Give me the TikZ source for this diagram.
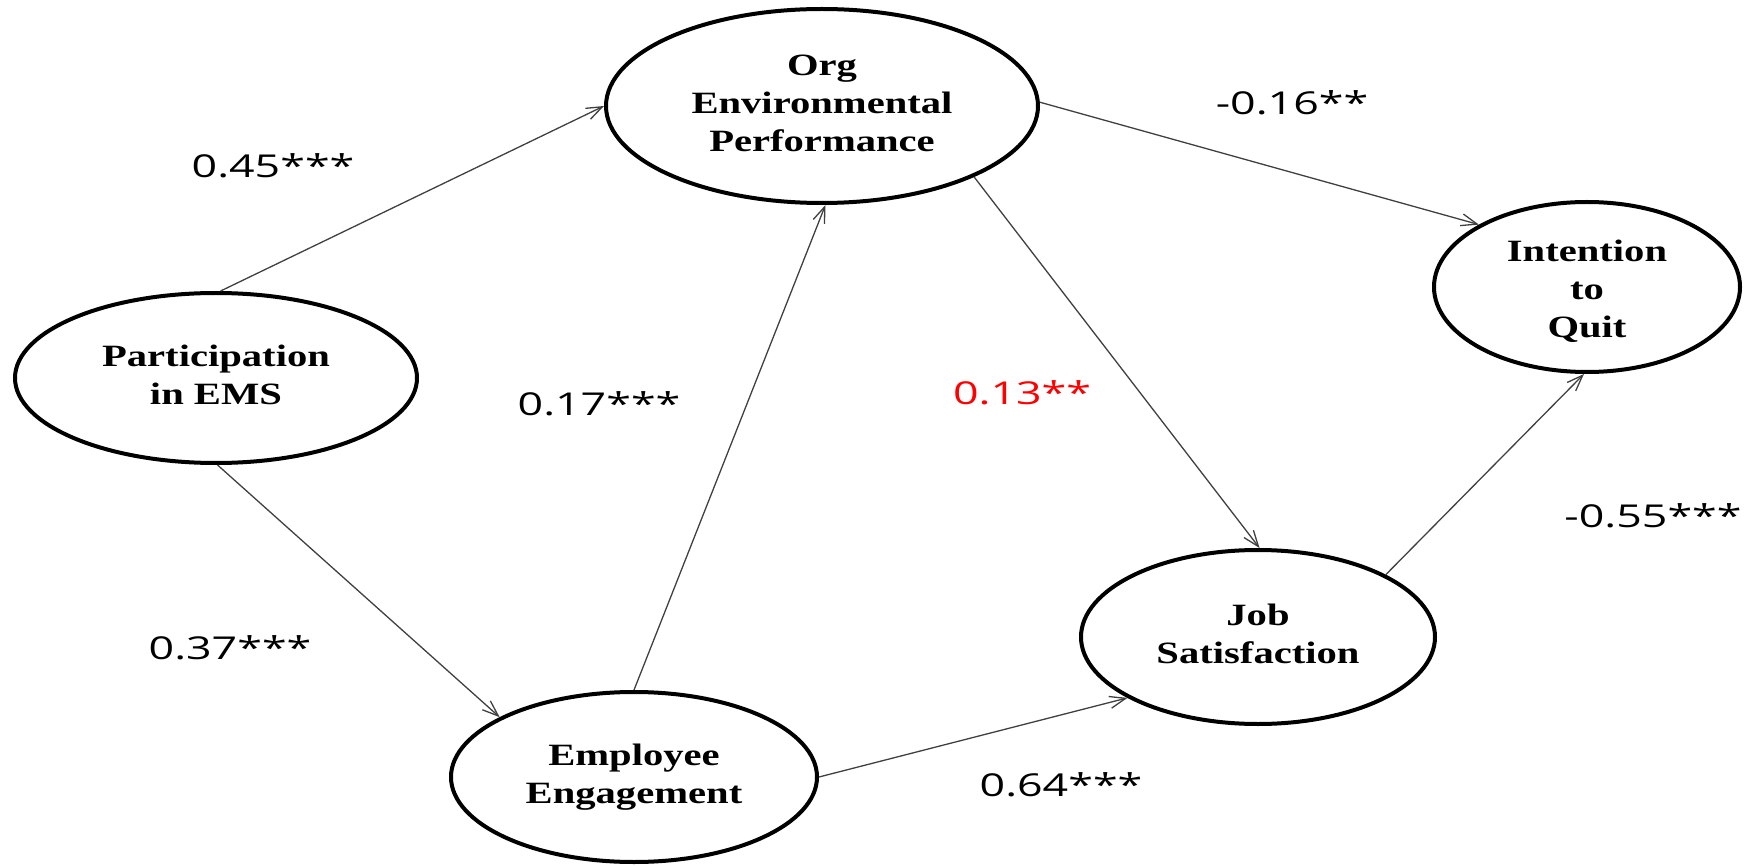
\documentclass[tikz,border=0pt]{standalone}
\usepackage{fontspec}
\setmainfont{Liberation Serif}
\newfontfamily\labfont{Open Sans}
\usetikzlibrary{shapes.geometric,arrows.meta}
\definecolor{arrowgrey}{HTML}{404040}
\definecolor{labred}{HTML}{FF0000}
\newcommand{\nodetext}[1]{\scalebox{1.31}[1]{\fontsize{31}{38}\selectfont\bfseries\begin{tabular}{@{}c@{}}#1\end{tabular}}}
\newcommand{\labtext}[1]{\scalebox{1.42}[1]{\fontsize{31.5}{36}\selectfont\labfont #1}}
\tikzset{
  construct/.style={ellipse, draw=black, line width=4pt, fill=white, inner sep=0pt},
  path/.style={draw=arrowgrey, line width=1.3pt, -{Straight Barb[length=16pt,width=12pt,line width=1.3pt]}},
  coef/.style={anchor=base, inner sep=0pt, text=black},
}
\begin{document}
\begin{tikzpicture}[x=1pt,y=-1pt]
\useasboundingbox (0,0) rectangle (1751,866);
\node[construct, minimum width=402pt, minimum height=170pt] (p) at (216,378) {\nodetext{Participation\\in EMS}};
\node[construct, minimum width=432pt, minimum height=194pt] (o) at (822,106) {\nodetext{Org\\Environmental\\Performance}};
\node[construct, minimum width=306pt, minimum height=170pt] (i) at (1587,287) {};
\node[anchor=center, inner sep=0pt] (it) at (1587,292) {\nodetext{Intention\\to\\Quit}};
\node[construct, minimum width=354pt, minimum height=174pt] (j) at (1258,637) {\nodetext{Job\\Satisfaction}};
\node[construct, minimum width=366pt, minimum height=170pt] (e) at (634,777) {\nodetext{Employee\\Engagement}};

\draw[path] (p.87) -- (o.180);
\draw[path] (p.-89) -- (e.156);
\draw[path] (e.90) -- (o.-88);
\draw[path] (o.-25) -- (j.89);
\draw[path] (o.1) -- (i.150);
\draw[path] (e.0) -- (j.205.5);
\draw[path] (j.26.7) -- (i.-92);

\node[coef] (l1) at (273,178) {\labtext{0.45***}};
\node[coef] (l2) at (1292,115) {\labtext{-0.16**}};
\node[coef] (l3) at (599,415) {\labtext{0.17***}};
\node[coef, text=labred] (l4) at (1022,405) {\labtext{0.13**}};
\node[coef] (l5) at (1653,527) {\labtext{-0.55***}};
\node[coef] (l6) at (230,659) {\labtext{0.37***}};
\node[coef] (l7) at (1061,796) {\labtext{0.64***}};
\end{tikzpicture}
\end{document}
